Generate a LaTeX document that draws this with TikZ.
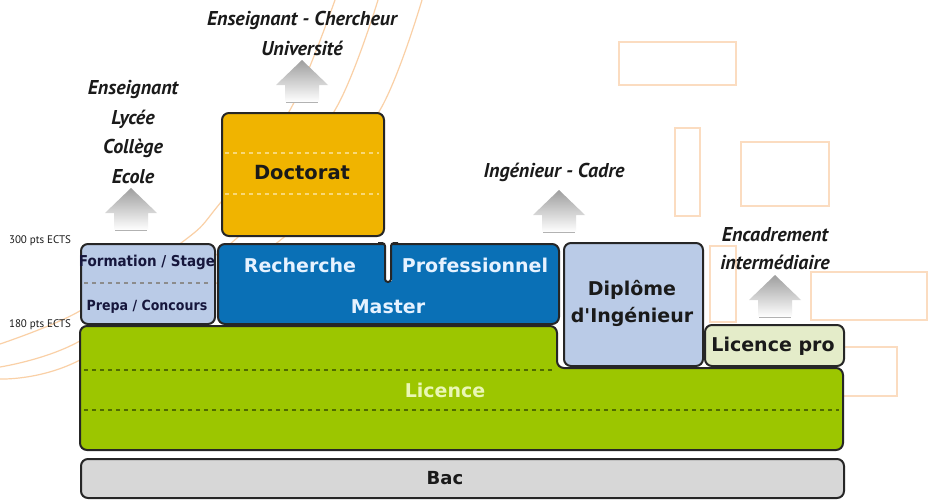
\documentclass[tikz,border=0pt]{standalone}
\usepackage{fontspec}
\setmainfont{PT Sans}
\newfontfamily\boxfont{DejaVu Sans}
\newfontfamily\boxcond{DejaVu Sans Condensed}
\definecolor{docf}{HTML}{F0B400}
\definecolor{bluef}{HTML}{0A70B6}
\definecolor{lbluef}{HTML}{BACBE7}
\definecolor{greenf}{HTML}{9CC600}
\definecolor{lprof}{HTML}{E4ECC9}
\definecolor{bacf}{HTML}{D7D7D7}
\definecolor{bord}{HTML}{262626}
\definecolor{orl}{HTML}{FAD0A6}
\definecolor{orr}{HTML}{FBDCC0}
\definecolor{labc}{HTML}{1A1A1A}
\definecolor{btl}{HTML}{E6F2FF}
\definecolor{lict}{HTML}{EAF7B5}
\definecolor{docd}{HTML}{F8D878}
\definecolor{gred}{HTML}{4F6B00}
\begin{document}
\begin{tikzpicture}[x=1pt,y=-1pt,
  bx/.style={draw=bord, line width=2pt, rounded corners=7pt, inner sep=0pt, anchor=north west},
  lab/.style={font=\bfseries\itshape\fontsize{20}{22}\selectfont, text=labc, inner sep=0pt},
  bt/.style={font=\boxfont\bfseries\fontsize{#1}{#1}\selectfont, text=labc, inner sep=0pt},
  bt/.default=19,
  btc/.style={font=\boxcond\bfseries\fontsize{#1}{#1}\selectfont, text=labc!85!blue, inner sep=0pt},
  ects/.style={font=\fontsize{11}{12}\selectfont, text=labc, inner sep=0pt},
  curve/.style={draw=orl, line width=1.2pt},
  orect/.style={draw=orr, line width=1.5pt},
  sep/.style={line width=1.2pt, dash pattern=on 4pt off 4pt},
  uparr/.pic={
    \shade[top color=black!38, bottom color=white] (-17,0) -- (-17,-17) -- (-26,-17) -- (0,-42) -- (26,-17) -- (17,-17) -- (17,0) -- cycle;
    \draw[black!30, line width=0.6pt] (-16,0) -- (16,0);
  }]
\useasboundingbox (0,0) rectangle (933,499);
\fill[white] (0,0) rectangle (933,499);
% decorative curves
\draw[curve] plot[smooth] coordinates {(335,0) (290,110) (217,207) (185,240) (78,312) (0,344)};
\draw[curve] plot[smooth] coordinates {(378,0) (335,110) (237,238) (78,342) (0,367)};
\draw[curve] plot[smooth] coordinates {(422,0) (380,110) (283,238) (78,361) (0,379)};
% decorative rectangles
\draw[orect] (619,42) rectangle (736,85);
\draw[orect] (675,128) rectangle (700,216);
\draw[orect] (741,142) rectangle (829,206);
\draw[orect] (710,246) rectangle (736,322);
\draw[orect] (811,272) rectangle (927,320);
\draw[orect] (830,347) rectangle (897,396);
% arrows
\pic at (131,230) {uparr};
\pic at (302,102) {uparr};
\pic at (559,232) {uparr};
\pic at (775,317) {uparr};
% boxes
\node[bx, fill=bacf, minimum width=763pt, minimum height=39pt] (bac) at (80,458) {};
\draw[draw=bord, line width=2pt, fill=greenf, rounded corners=7pt]
  (80,326) -- (557,326) -- (557,368) -- (843,368) -- (843,450) -- (80,450) -- cycle;
\draw[gred, sep] (84,370) -- (553,370);
\draw[gred, sep] (84,410) -- (839,410);
\node[bx, fill=docf, minimum width=162pt, minimum height=123pt] (doc) at (221,112) {};
\draw[docd, sep] (225,153) -- (379,153);
\draw[docd, sep] (225,194) -- (379,194);
\node[bx, fill=lbluef, minimum width=134pt, minimum height=80pt] (form) at (80,243) {};
\draw[black!45, sep] (84,283) -- (210,283);
\node[bx, fill=bluef, minimum width=341pt, minimum height=80pt] (mast) at (217,243) {};
\fill[white] (384.5,240) rectangle (391.5,281);
\draw[bord, line width=2pt, rounded corners=3pt] (378,243) -- (385,243) -- (385,282) -- (391,282) -- (391,243) -- (398,243);
\node[bx, fill=lbluef, minimum width=139pt, minimum height=123pt] (dipl) at (563,242) {};
\node[bx, fill=lprof, minimum width=139pt, minimum height=41pt] (lpro) at (704,324) {};
% box texts
\node[bt=19.5] (tdoc) at (302,173) {Doctorat};
\node[btc=15] (tform) at (147,262) {Formation / Stage};
\node[btc=14] (tprep) at (147,307) {Prepa / Concours};
\node[bt, text=btl] (trech) at (300,265) {Recherche};
\node[bt, text=btl] (tprof) at (475,265) {Professionnel};
\node[bt, text=btl] (tmast) at (388,307) {Master};
\node[bt] (tdip1) at (632,290) {Diplôme};
\node[bt] (tdip2) at (632,317) {d'Ingénieur};
\node[bt] (tlpro) at (773,346) {Licence pro};
\node[bt, text=lict] (tlic) at (445,390) {Licence};
\node[bt=18] (tbac) at (445,478) {Bac};
% labels
\node[lab] (l1) at (302,20) {Enseignant - Chercheur};
\node[lab] (l2) at (302,48) {Université};
\node[lab] (l3) at (133,90) {Enseignant};
\node[lab] (l4) at (133,119) {Lycée};
\node[lab] (l5) at (133,148) {Collège};
\node[lab] (l6) at (133,177) {Ecole};
\node[lab] (l7) at (554,172) {Ingénieur - Cadre};
\node[lab] (l8) at (775,235) {Encadrement};
\node[lab] (l9) at (775,262) {intermédiaire};
\node[ects] (e1) at (40,241) {300 pts ECTS};
\node[ects] (e2) at (40,325) {180 pts ECTS};
\end{tikzpicture}
\end{document}
